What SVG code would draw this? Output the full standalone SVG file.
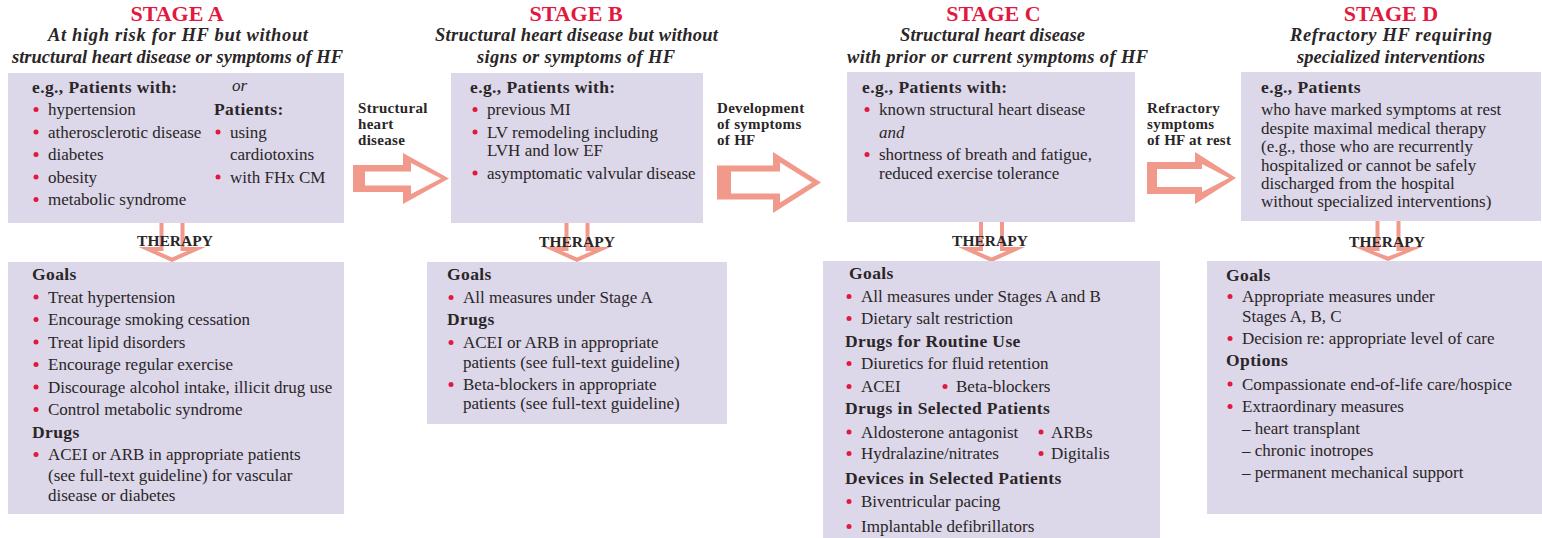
<svg xmlns="http://www.w3.org/2000/svg" width="1542" height="538" viewBox="0 0 1542 538">
<style>
text{font-family:"Liberation Serif","Times New Roman",serif;fill:#2a2627}
.stage{font-size:22px;font-weight:bold;fill:#e2183e;text-anchor:middle}
.sub{font-size:18.5px;font-weight:bold;font-style:italic;text-anchor:middle}
.t{font-size:17px}
.h{font-size:17.5px;font-weight:bold;letter-spacing:0.4px}
.i{font-size:17px;font-style:italic}
.lbl{font-size:15px;font-weight:bold;letter-spacing:0.3px}
.ther{font-size:15.5px;font-weight:bold;text-anchor:middle}
.box{fill:#dcd7e9}
.b{fill:#e2183e}
.ao{fill:#f1998b}
.ai{fill:#ffffff}
</style>
<rect width="1542" height="538" fill="#ffffff"/>

<g id="connectors">
  <!-- horizontal transition arrows -->
  <polygon class="ao" points="353,165 403,165 403,153 449,178.5 403,204 403,192 353,192"/>
  <polygon class="ai" points="365,171.5 411,171.5 411,163 441,178.5 411,194 411,185.5 365,185.5"/>
  <polygon class="ao" points="717,165.5 773,165.5 773,152 821,182.5 773,213 773,199.5 717,199.5"/>
  <polygon class="ai" points="731,171.5 780,171.5 780,162.5 812,182.5 780,202.5 780,193.5 731,193.5"/>
  <polygon class="ao" points="1147,162 1195,162 1195,152 1236,178 1195,204 1195,194 1147,194"/>
  <polygon class="ai" points="1157,169 1202,169 1202,164 1229,178 1202,192 1202,187 1157,187"/>
  <!-- down THERAPY arrows -->
  <polygon class="ao" points="159.5,218 184.5,218 184.5,247 205.5,247 172,262 138.5,247 159.5,247"/>
  <polygon class="ai" points="163.5,218 180.5,218 180.5,251 187,251 172,257.5 157,251 163.5,251"/>
  <polygon class="ao" points="564.5,218 589.5,218 589.5,247 610.5,247 577,262 543.5,247 564.5,247"/>
  <polygon class="ai" points="568.5,218 585.5,218 585.5,251 592,251 577,257.5 562,251 568.5,251"/>
  <polygon class="ao" points="979,218 1004,218 1004,247 1025,247 991.5,262 958,247 979,247"/>
  <polygon class="ai" points="983,218 1000,218 1000,251 1006.5,251 991.5,257.5 976.5,251 983,251"/>
  <polygon class="ao" points="1375.5,218 1400.5,218 1400.5,247 1421.5,247 1388,261 1354.5,247 1375.5,247"/>
  <polygon class="ai" points="1379.5,218 1396.5,218 1396.5,251 1403,251 1388,256.5 1373,251 1379.5,251"/>
  <text class="lbl" x="358" y="113">Structural</text>
  <text class="lbl" x="358" y="129">heart</text>
  <text class="lbl" x="358" y="145">disease</text>
  <text class="lbl" x="717" y="113">Development</text>
  <text class="lbl" x="717" y="129">of symptoms</text>
  <text class="lbl" x="717" y="145">of HF</text>
  <text class="lbl" x="1147" y="113">Refractory</text>
  <text class="lbl" x="1147" y="129">symptoms</text>
  <text class="lbl" x="1147" y="145">of HF at rest</text>
</g>

<g id="stageA">
  <text class="stage" x="177" y="21">STAGE A</text>
  <text class="sub" x="178" y="41" textLength="260">At high risk for HF but without</text>
  <text class="sub" x="177.5" y="63" textLength="331">structural heart disease or symptoms of HF</text>
  <rect class="box" x="8" y="73" width="336" height="150"/>
  <text class="h" x="32" y="93">e.g., Patients with:</text>
  <text class="i" x="232" y="91">or</text>
  <text class="h" x="214" y="115">Patients:</text>
  <circle class="b" cx="36" cy="109.5" r="2.5"/><text class="t" x="48" y="115">hypertension</text>
  <circle class="b" cx="36" cy="132" r="2.5"/><text class="t" x="48" y="137.5">atherosclerotic disease</text>
  <circle class="b" cx="36" cy="154.5" r="2.5"/><text class="t" x="48" y="160">diabetes</text>
  <circle class="b" cx="36" cy="177" r="2.5"/><text class="t" x="48" y="182.5">obesity</text>
  <circle class="b" cx="36" cy="199.5" r="2.5"/><text class="t" x="48" y="205">metabolic syndrome</text>
  <circle class="b" cx="218" cy="132" r="2.5"/><text class="t" x="230" y="137.5">using</text>
  <text class="t" x="230" y="160">cardiotoxins</text>
  <circle class="b" cx="218" cy="177" r="2.5"/><text class="t" x="230" y="182.5">with FHx CM</text>
</g>

<g id="therapyA">
  <rect class="box" x="8" y="262" width="336" height="252"/>
  <text class="h" x="32" y="280">Goals</text>
  <circle class="b" cx="36" cy="297" r="2.5"/><text class="t" x="48" y="302.5">Treat hypertension</text>
  <circle class="b" cx="36" cy="319.5" r="2.5"/><text class="t" x="48" y="325">Encourage smoking cessation</text>
  <circle class="b" cx="36" cy="342" r="2.5"/><text class="t" x="48" y="347.5">Treat lipid disorders</text>
  <circle class="b" cx="36" cy="364.5" r="2.5"/><text class="t" x="48" y="370">Encourage regular exercise</text>
  <circle class="b" cx="36" cy="387" r="2.5"/><text class="t" x="48" y="392.5">Discourage alcohol intake, illicit drug use</text>
  <circle class="b" cx="36" cy="409.5" r="2.5"/><text class="t" x="48" y="415">Control metabolic syndrome</text>
  <text class="h" x="32" y="437.5">Drugs</text>
  <circle class="b" cx="36" cy="454.5" r="2.5"/><text class="t" x="48" y="460">ACEI or ARB in appropriate patients</text>
  <text class="t" x="48" y="481">(see full-text guideline) for vascular</text>
  <text class="t" x="48" y="500.5">disease or diabetes</text>
</g>

<g id="stageB">
  <text class="stage" x="576" y="21">STAGE B</text>
  <text class="sub" x="576.5" y="41" textLength="283">Structural heart disease but without</text>
  <text class="sub" x="576" y="63" textLength="198">signs or symptoms of HF</text>
  <rect class="box" x="451" y="73" width="252" height="150"/>
  <text class="h" x="470" y="93">e.g., Patients with:</text>
  <circle class="b" cx="475" cy="109.5" r="2.5"/><text class="t" x="487" y="115">previous MI</text>
  <circle class="b" cx="475" cy="132" r="2.5"/><text class="t" x="487" y="137.5">LV remodeling including</text>
  <text class="t" x="487" y="156">LVH and low EF</text>
  <circle class="b" cx="475" cy="173" r="2.5"/><text class="t" x="487" y="178.5">asymptomatic valvular disease</text>
</g>

<g id="therapyB">
  <rect class="box" x="427" y="262" width="300" height="162"/>
  <text class="h" x="447" y="280">Goals</text>
  <circle class="b" cx="451" cy="297.5" r="2.5"/><text class="t" x="463" y="303">All measures under Stage A</text>
  <text class="h" x="447" y="325">Drugs</text>
  <circle class="b" cx="451" cy="342.5" r="2.5"/><text class="t" x="463" y="348">ACEI or ARB in appropriate</text>
  <text class="t" x="463" y="368">patients (see full-text guideline)</text>
  <circle class="b" cx="451" cy="384.5" r="2.5"/><text class="t" x="463" y="390">Beta-blockers in appropriate</text>
  <text class="t" x="463" y="409">patients (see full-text guideline)</text>
</g>

<g id="stageC">
  <text class="stage" x="993.5" y="21">STAGE C</text>
  <text class="sub" x="992.5" y="41" textLength="185">Structural heart disease</text>
  <text class="sub" x="997.5" y="63" textLength="301">with prior or current symptoms of HF</text>
  <rect class="box" x="847" y="72" width="288" height="150"/>
  <text class="h" x="862" y="93">e.g., Patients with:</text>
  <circle class="b" cx="867" cy="109.5" r="2.5"/><text class="t" x="879" y="115">known structural heart disease</text>
  <text class="i" x="879" y="137.5">and</text>
  <circle class="b" cx="867" cy="154.5" r="2.5"/><text class="t" x="879" y="160">shortness of breath and fatigue,</text>
  <text class="t" x="879" y="179">reduced exercise tolerance</text>
</g>

<g id="therapyC">
  <rect class="box" x="823" y="261" width="337" height="277"/>
  <text class="h" x="849" y="279">Goals</text>
  <circle class="b" cx="849" cy="296.5" r="2.5"/><text class="t" x="861" y="302">All measures under Stages A and B</text>
  <circle class="b" cx="849" cy="318.5" r="2.5"/><text class="t" x="861" y="324">Dietary salt restriction</text>
  <text class="h" x="845" y="347">Drugs for Routine Use</text>
  <circle class="b" cx="849" cy="363.5" r="2.5"/><text class="t" x="861" y="369">Diuretics for fluid retention</text>
  <circle class="b" cx="849" cy="386.5" r="2.5"/><text class="t" x="861" y="392">ACEI</text>
  <circle class="b" cx="945" cy="386.5" r="2.5"/><text class="t" x="956" y="392">Beta-blockers</text>
  <text class="h" x="845" y="414">Drugs in Selected Patients</text>
  <circle class="b" cx="849" cy="432" r="2.5"/><text class="t" x="861" y="437.5">Aldosterone antagonist</text>
  <circle class="b" cx="1041" cy="432" r="2.5"/><text class="t" x="1051" y="437.5">ARBs</text>
  <circle class="b" cx="849" cy="453.5" r="2.5"/><text class="t" x="861" y="459">Hydralazine/nitrates</text>
  <circle class="b" cx="1041" cy="453.5" r="2.5"/><text class="t" x="1051" y="459">Digitalis</text>
  <text class="h" x="845" y="484">Devices in Selected Patients</text>
  <circle class="b" cx="849" cy="501.5" r="2.5"/><text class="t" x="861" y="507">Biventricular pacing</text>
  <circle class="b" cx="849" cy="526.5" r="2.5"/><text class="t" x="861" y="532">Implantable defibrillators</text>
</g>

<g id="stageD">
  <text class="stage" x="1391" y="21">STAGE D</text>
  <text class="sub" x="1391" y="41" textLength="202">Refractory HF requiring</text>
  <text class="sub" x="1391" y="63" textLength="188">specialized interventions</text>
  <rect class="box" x="1241" y="72" width="300" height="149"/>
  <text class="h" x="1261" y="93">e.g., Patients</text>
  <text class="t" x="1261" y="115">who have marked symptoms at rest</text>
  <text class="t" x="1261" y="133.5">despite maximal medical therapy</text>
  <text class="t" x="1261" y="152">(e.g., those who are recurrently</text>
  <text class="t" x="1261" y="170.5">hospitalized or cannot be safely</text>
  <text class="t" x="1261" y="189">discharged from the hospital</text>
  <text class="t" x="1261" y="207">without specialized interventions)</text>
</g>

<g id="therapyD">
  <rect class="box" x="1207" y="261" width="335" height="253"/>
  <text class="h" x="1226" y="281">Goals</text>
  <circle class="b" cx="1230" cy="296.5" r="2.5"/><text class="t" x="1242" y="302">Appropriate measures under</text>
  <text class="t" x="1242" y="321.5">Stages A, B, C</text>
  <circle class="b" cx="1230" cy="338.5" r="2.5"/><text class="t" x="1242" y="344">Decision re: appropriate level of care</text>
  <text class="h" x="1226" y="366">Options</text>
  <circle class="b" cx="1230" cy="384" r="2.5"/><text class="t" x="1242" y="389.5">Compassionate end-of-life care/hospice</text>
  <circle class="b" cx="1230" cy="406.5" r="2.5"/><text class="t" x="1242" y="412">Extraordinary measures</text>
  <text class="t" x="1242" y="434">– heart transplant</text>
  <text class="t" x="1242" y="456">– chronic inotropes</text>
  <text class="t" x="1242" y="477.5">– permanent mechanical support</text>
</g>

<g id="therapy-labels">
  <text class="ther" x="175" y="246">THERAPY</text>
  <text class="ther" x="577" y="247">THERAPY</text>
  <text class="ther" x="990" y="246">THERAPY</text>
  <text class="ther" x="1387" y="247">THERAPY</text>
</g>
</svg>
